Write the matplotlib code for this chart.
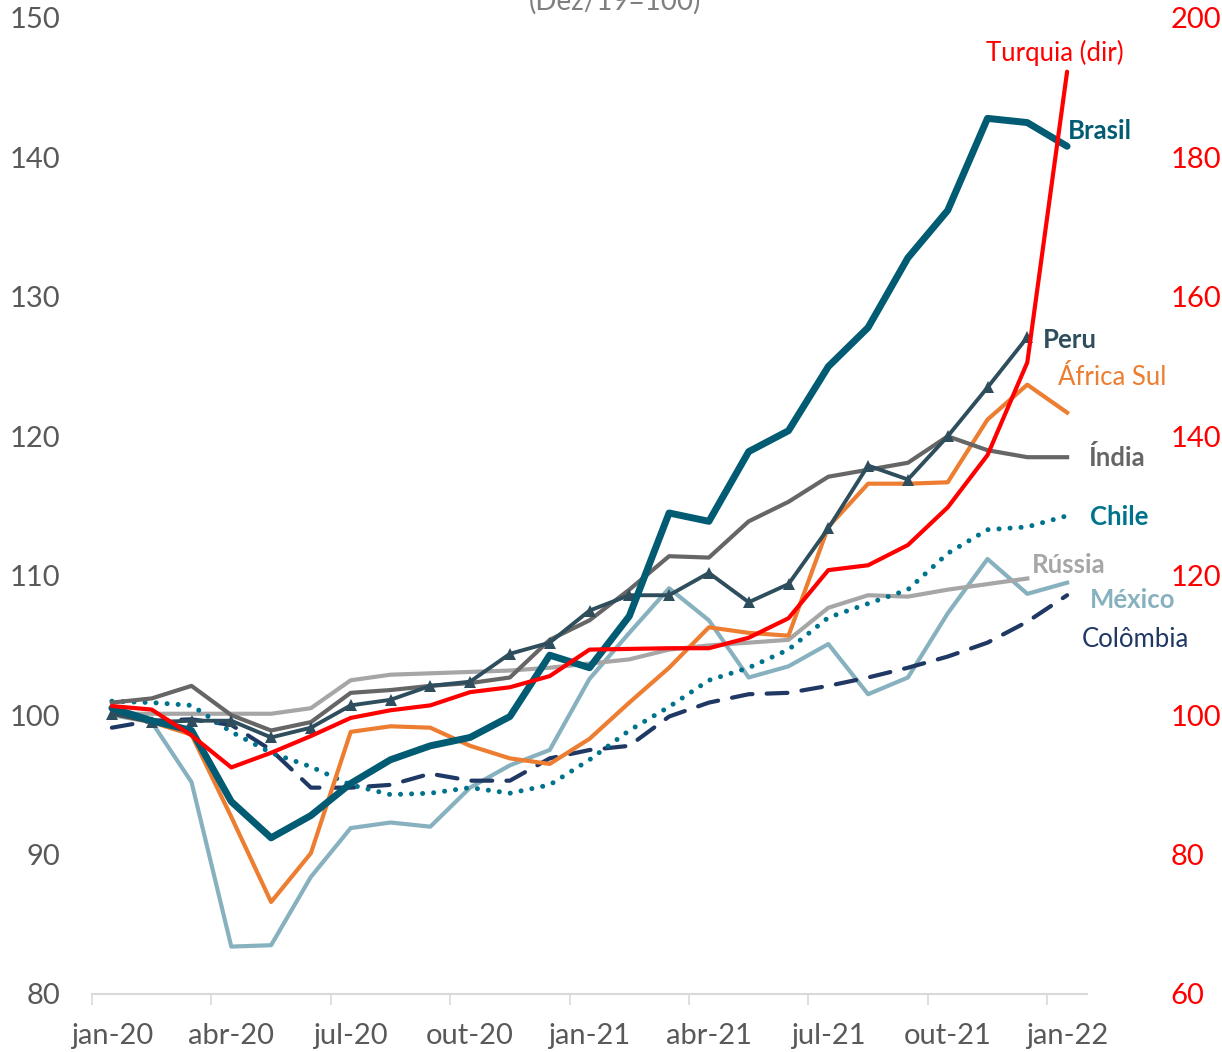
import matplotlib
matplotlib.use("Agg")
import matplotlib.pyplot as plt
import numpy as np

plt.rcParams['font.family'] = ['Lato', 'DejaVu Sans']

months = ['jan-20','fev-20','mar-20','abr-20','mai-20','jun-20','jul-20','ago-20','set-20',
          'out-20','nov-20','dez-20','jan-21','fev-21','mar-21','abr-21','mai-21','jun-21',
          'jul-21','ago-21','set-21','out-21','nov-21','dez-21','jan-22']
tick_labels = ['jan-20','abr-20','jul-20','out-20','jan-21','abr-21','jul-21','out-21','jan-22']

brasil = [100.5, 99.6, 98.9, 93.8, 91.2, 92.8, 95.1, 96.8, 97.8, 98.4, 99.9, 104.3, 103.4,
          107.1, 114.5, 113.9, 118.9, 120.4, 125.0, 127.8, 132.8, 136.2, 142.8, 142.5, 140.8]
turquia = [101.3, 100.8, 97.1, 92.5, 94.6, 97.0, 99.6, 100.7, 101.4, 103.3, 104.0, 105.6, 109.4,
           109.5, 109.6, 109.6, 111.1, 113.9, 120.8, 121.5, 124.4, 129.8, 137.3, 150.6, 192.3]
peru = [100.1, 99.5, 99.6, 99.6, 98.4, 99.1, 100.7, 101.1, 102.1, 102.4, 104.4, 105.2, 107.5,
        108.6, 108.6, 110.2, 108.1, 109.4, 113.4, 117.9, 116.9, 120.0, 123.5, 127.1]
africa_sul = [100.1, 99.5, 98.6, 92.7, 86.6, 90.1, 98.8, 99.2, 99.1, 97.8, 96.9, 96.5, 98.3,
              100.9, 103.4, 106.3, 105.9, 105.7, 113.5, 116.6, 116.6, 116.7, 121.2, 123.7, 121.7]
india = [100.9, 101.2, 102.1, 100.0, 98.9, 99.5, 101.6, 101.8, 102.1, 102.3, 102.7, 105.4, 106.8,
         109.0, 111.4, 111.3, 113.9, 115.3, 117.1, 117.6, 118.1, 120.0, 119.0, 118.5, 118.5]
chile = [101.0, 100.9, 100.7, 98.8, 97.3, 96.3, 95.0, 94.3, 94.4, 94.8, 94.4, 95.0, 96.8,
         98.9, 100.6, 102.5, 103.4, 104.7, 107.0, 108.0, 109.0, 111.6, 113.3, 113.5, 114.3]
russia = [100.1, 100.1, 100.1, 100.1, 100.1, 100.5, 102.5, 102.9, 103.0, 103.1, 103.2, 103.4, 103.7,
          104.0, 104.7, 105.0, 105.2, 105.4, 107.7, 108.6, 108.5, 109.0, 109.4, 109.8]
mexico = [100.0, 99.5, 95.2, 83.4, 83.5, 88.4, 91.9, 92.3, 92.0, 94.8, 96.4, 97.5, 102.6,
          105.9, 109.1, 106.8, 102.7, 103.5, 105.1, 101.5, 102.7, 107.3, 111.2, 108.7, 109.5]
colombia = [99.1, 99.6, 99.7, 99.3, 97.5, 94.8, 94.8, 95.0, 95.8, 95.3, 95.3, 96.9, 97.5,
            97.8, 99.9, 100.9, 101.5, 101.6, 102.1, 102.7, 103.4, 104.2, 105.2, 106.7, 108.6]

W, H = 1222, 1052
fig = plt.figure(figsize=(W/100, H/100), dpi=100)
ax = fig.add_axes([92/W, 1-994/H, (1087-92)/W, (994-18)/H])
ax2 = ax.twinx()

x = np.arange(len(months))

c_brasil = '#005B73'
c_turq = '#FF0000'
c_peru = '#2F4E5D'
c_afr = '#ED7D31'
c_ind = '#666666'
c_chile = '#00738C'
c_rus = '#A6A6A6'
c_mex = '#87B1BF'
c_col = '#1F3864'

ax.plot(x[:len(mexico)], mexico, color=c_mex, lw=3.0)
ax.plot(x[:len(russia)], russia, color=c_rus, lw=3.0)
ax.plot(x[:len(colombia)], colombia, color=c_col, lw=3.0, dashes=(5, 3.4), dash_capstyle='round')
ax.plot(x[:len(chile)], chile, color=c_chile, lw=3.6, linestyle=(0, (0.01, 2.2)), dash_capstyle='round')
ax.plot(x[:len(africa_sul)], africa_sul, color=c_afr, lw=3.0)
ax.plot(x[:len(india)], india, color=c_ind, lw=3.0)
ax.plot(x[:len(peru)], peru, color=c_peru, lw=2.8, marker='^', ms=8, markeredgewidth=0)
ax.plot(x[:len(brasil)], brasil, color=c_brasil, lw=5.0, solid_capstyle='round')
ax2.plot(x[:len(turquia)], turquia, color=c_turq, lw=3.0, solid_capstyle='round')

ax.set_xlim(-0.5, len(months) - 0.5)
ax.set_ylim(80, 150)
ax2.set_ylim(60, 200)
ax.set_yticks(np.arange(80, 151, 10))
ax2.set_yticks(np.arange(60, 201, 20))

# x ticks: marks at boundaries, labels at centres
ax.set_xticks(np.arange(-0.5, len(months), 3))
ax.set_xticklabels([])
ax.set_xticks(np.arange(0, len(months), 3), minor=True)
ax.set_xticklabels(tick_labels, minor=True)
ax.tick_params(axis='x', which='major', length=8, width=1.2, color='#D9D9D9', direction='out')
ax.tick_params(axis='x', which='minor', length=0, pad=21, labelsize=21, labelcolor='#595959')
ax.tick_params(axis='y', length=0, pad=23, labelsize=21, labelcolor='#595959')
ax2.tick_params(axis='y', length=0, pad=60, labelsize=21, labelcolor='#FF0000')

for a in (ax, ax2):
    for s in ['top', 'left', 'right', 'bottom']:
        a.spines[s].set_visible(False)
ax.spines['bottom'].set_visible(True)
ax.spines['bottom'].set_color('#D9D9D9')
ax.spines['bottom'].set_linewidth(1.5)

# series labels
lab_kw = dict(fontsize=18.5, clip_on=False, va='center', ha='left')
ax.text(24.02, 141.9, 'Brasil', color=c_brasil, fontweight='bold', **lab_kw)
ax.text(23.7, 147.5, 'Turquia (dir)', color=c_turq, fontsize=18.5, clip_on=False, va='center', ha='center')
ax.text(23.39, 126.9, 'Peru', color=c_peru, fontweight='bold', **lab_kw)
ax.text(23.77, 124.2, 'África Sul', color=c_afr, **lab_kw)
ax.text(24.52, 118.5, 'Índia', color=c_ind, fontweight='bold', **lab_kw)
ax.text(24.57, 114.2, 'Chile', color=c_chile, fontweight='bold', **lab_kw)
ax.text(23.12, 110.8, 'Rússia', color=c_rus, fontweight='bold', **lab_kw)
ax.text(24.57, 108.25, 'México', color=c_mex, fontweight='bold', **lab_kw)
ax.text(24.37, 105.4, 'Colômbia', color=c_col, **lab_kw)

fig.text(615/W, 1 - 10/H, '(Dez/19=100)', ha='center', va='baseline', fontsize=20, color='#7F7F7F')

fig.savefig('out.png', dpi=100)
